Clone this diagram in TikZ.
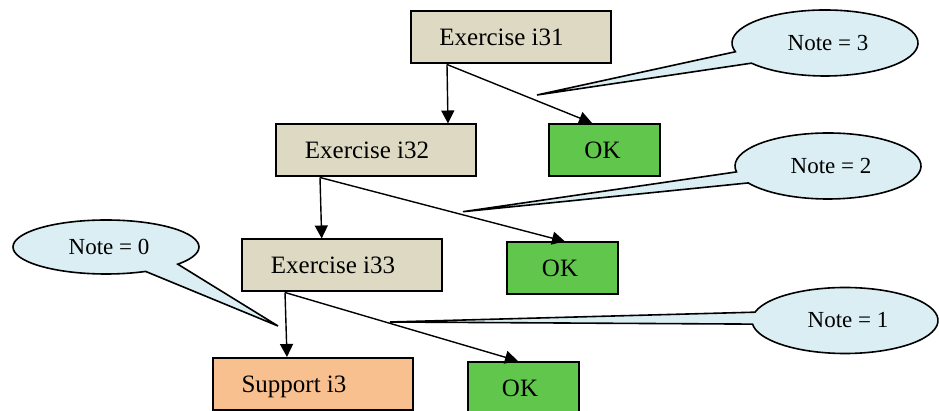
\documentclass[tikz,border=0pt]{standalone}
\usepackage{fontspec}
\setmainfont{Liberation Serif}
\usetikzlibrary{arrows.meta}
\definecolor{exfill}{HTML}{DDD9C3}
\definecolor{okfill}{HTML}{61C64C}
\definecolor{supfill}{HTML}{F9C08F}
\definecolor{notefill}{HTML}{DAEEF3}
\begin{document}
\begin{tikzpicture}[x=1pt,y=1pt,
  box/.style={draw=black, line width=2pt, inner sep=0pt},
  exbox/.style={box, fill=exfill, minimum width=200pt, minimum height=52pt},
  okbox/.style={box, fill=okfill, minimum width=111pt, minimum height=52pt},
  supbox/.style={box, fill=supfill, minimum width=200pt, minimum height=52pt},
  boxtext/.style={font=\fontsize{25}{25}\selectfont, text height=17pt, text depth=0pt, inner sep=0pt},
  flow/.style={line width=1.4pt, -{Triangle[length=13pt,width=13pt]}},
  note/.style={draw=black, line width=1.6pt, fill=notefill, line join=miter},
  notetext/.style={font=\fontsize{23}{23}\selectfont, inner sep=0pt}]
\clip (0,0) rectangle (939,411);
\fill[white] (0,0) rectangle (939,411);

% exercise chain
\node[exbox] (i31) at (511,373.5) {};
\node[boxtext] (i31t) at ([xshift=-9.5pt]i31.center) {Exercise i31};
\node[exbox] (i32) at (375.5,260.5) {};
\node[boxtext] (i32t) at ([xshift=-8.5pt]i32.center) {Exercise i32};
\node[exbox] (i33) at (342,145.5) {};
\node[boxtext] (i33t) at ([xshift=-9pt]i33.center) {Exercise i33};
\node[supbox] (sup) at (313,27) {};
\node[boxtext] (supt) at ([xshift=-19pt]sup.center) {Support i3};

% successful outcomes
\node[okbox] (ok1) at (604.5,261) {};
\node[boxtext] (ok1t) at ([xshift=-2pt]ok1.center) {OK};
\node[okbox] (ok2) at (562.5,142.5) {};
\node[boxtext] (ok2t) at ([xshift=-2.5pt]ok2.center) {OK};
\node[okbox] (ok3) at (523,23) {};
\node[boxtext] (ok3t) at ([xshift=-3pt]ok3.center) {OK};

% transitions
\draw[flow] ([xshift=-64pt]i31.south) -- ([xshift=72.5pt]i32.north);
\draw[flow] ([xshift=-64pt]i31.south) -- ([xshift=-12.5pt]ok1.north);
\draw[flow] ([xshift=-55.5pt]i32.south) -- ([xshift=-20.3pt]i33.north);
\draw[flow] ([xshift=-55.5pt]i32.south) -- ([xshift=2.5pt]ok2.north);
\draw[flow] ([xshift=-57pt]i33.south) -- ([xshift=-26pt]sup.north);
\draw[flow] ([xshift=-57pt]i33.south) -- ([xshift=-5pt]ok3.north);

% grade callouts
\coordinate (c3) at (825,368);
\coordinate (p3) at (537,316);
\draw[note] (p3) -- ([shift={(195.4:93pt and 33pt)}]c3)
  arc[start angle=195.4, end angle=-142.3, x radius=93pt, y radius=33pt] -- cycle;
\node[notetext] (n3) at ([xshift=3pt]c3) {Note = 3};

\coordinate (c2) at (828,245);
\coordinate (p2) at (463,199.3);
\draw[note] (p2) -- ([shift={(190.3:93pt and 33pt)}]c2)
  arc[start angle=190.3, end angle=-149.1, x radius=93pt, y radius=33pt] -- cycle;
\node[notetext] (n2) at ([xshift=3pt]c2) {Note = 2};

\coordinate (c0) at (106,164);
\coordinate (p0) at (278,85);
\draw[note] (p0) -- ([shift={(-39.5:93pt and 27pt)}]c0)
  arc[start angle=-39.5, end angle=295.2, x radius=93pt, y radius=27pt] -- cycle;
\node[notetext] (n0) at ([xshift=3pt]c0) {Note = 0};

\coordinate (c1) at (845,90.5);
\coordinate (p1) at (390,89);
\draw[note] (p1) -- ([shift={(165.4:93pt and 33pt)}]c1)
  arc[start angle=165.4, end angle=-173.7, x radius=93pt, y radius=33pt] -- cycle;
\node[notetext] (n1) at ([xshift=3pt]c1) {Note = 1};
\end{tikzpicture}
\end{document}
